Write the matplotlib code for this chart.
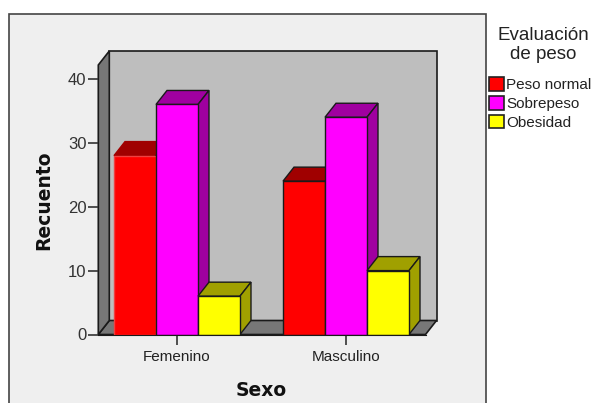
import numpy as np
import matplotlib
matplotlib.use('Agg')
import matplotlib.pyplot as plt
from matplotlib.patches import Rectangle, Patch

# Data
categories = ['Femenino', 'Masculino']
series_names = ['Peso normal', 'Sobrepeso', 'Obesidad']
peso_normal = [28, 24]
sobrepeso = [36, 34]
obesidad = [6, 10]
y_ticks = [0, 10, 20, 30, 40]

front_colors = ['#FF0000', '#FF00FF', '#FFFF00']
dark_colors = ['#A00000', '#A000A0', '#A0A000']

W, H = 597, 403
plt.rcParams['font.family'] = ['Liberation Sans', 'DejaVu Sans']
fig = plt.figure(figsize=(W / 100, H / 100), dpi=100, facecolor='white')

# grey chart panel, runs off the bottom of the picture
fig.add_artist(Rectangle((9 / W, -0.05), (485.5 - 9) / W, 1.05 - 14 / H, transform=fig.transFigure,
                         facecolor='#EFEFEF', edgecolor='#444444', linewidth=1.2, zorder=-1))

# front plane of the 3d box, in pixels
left, right, top, bottom = 98.3, 425.5, 65.0, 334.5
ax = fig.add_axes([left / W, 1 - bottom / H, (right - left) / W, (bottom - top) / H])
ax.patch.set_visible(False)

px_x = 169.0   # pixels from one category to the next
px_y = 6.39    # pixels for one count
ax.set_xlim(-(177 - left) / px_x, (right - 177) / px_x)
ax.set_ylim(0, (bottom - top) / px_y)

dx = 11 / px_x
dy = 14 / px_y
x0, x1 = ax.get_xlim()
y0, y1 = ax.get_ylim()
edge = '#1A1A1A'

# walls and floor
ax.fill([x0 + dx, x1 + dx, x1 + dx, x0 + dx], [y0 + dy, y0 + dy, y1 + dy, y1 + dy],
        facecolor='#BEBEBE', edgecolor=edge, linewidth=1.2, clip_on=False, zorder=1)
ax.fill([x0, x1, x1 + dx, x0 + dx], [y0, y0, y0 + dy, y0 + dy],
        facecolor='#777777', edgecolor=edge, linewidth=1.2, clip_on=False, zorder=1)
ax.fill([x0, x0 + dx, x0 + dx, x0], [y0, y0 + dy, y1 + dy, y1],
        facecolor='#777777', edgecolor=edge, linewidth=1.2, clip_on=False, zorder=1)

# bars, drawn left to right so each one covers the side of the previous
series = [peso_normal, sobrepeso, obesidad]
bar_w = 0.2485
z = 2
for c in range(len(categories)):
    for s in range(len(series)):
        v = series[s][c]
        xl = c + (s - 1.5) * bar_w
        xr = xl + bar_w
        # first red bar has no black outline in the original
        soft = (c == 0 and s == 0)
        ax.fill([xl, xr, xr + dx, xl + dx], [v, v, v + dy, v + dy], facecolor=dark_colors[s],
                edgecolor=dark_colors[s] if soft else edge, linewidth=1.0, clip_on=False, zorder=z)
        ax.fill([xr, xr + dx, xr + dx, xr], [0, dy, v + dy, v], facecolor=dark_colors[s],
                edgecolor=edge, linewidth=1.0, clip_on=False, zorder=z)
        ax.bar(xl, v, width=bar_w, align='edge', color=front_colors[s],
               edgecolor='#F04040' if soft else edge, linewidth=1.0, zorder=z + 1)
        z += 2

for sp in ax.spines.values():
    sp.set_visible(False)
ax.spines['bottom'].set_visible(True)
ax.spines['bottom'].set_color(edge)
ax.spines['bottom'].set_zorder(z)

ax.set_xticks(range(len(categories)))
ax.set_xticklabels(categories, fontsize=11)
ax.set_yticks(y_ticks)
ax.tick_params(axis='x', length=7.5, width=1.2, color='#333333', labelcolor='#222222', pad=3.5)
ax.tick_params(axis='y', length=7.5, width=1.2, color='#333333', labelcolor='#333333', labelsize=12, pad=1)

fig.text(261 / W, 1 - 391 / H, 'Sexo', family='DejaVu Sans', fontweight='bold', fontsize=13.5,
         ha='center', va='center', color='#111111')
fig.text(44 / W, 1 - 200 / H, 'Recuento', family='DejaVu Sans', fontweight='bold', fontsize=13.5,
         ha='center', va='center', rotation=90, color='#111111')

# legend
handles = [Patch(facecolor=front_colors[i], edgecolor='#222222', linewidth=1.2) for i in range(3)]
leg = fig.legend(handles, series_names, loc='upper left', bbox_to_anchor=(489 / W, 1 - 77 / H),
                 bbox_transform=fig.transFigure, frameon=False, fontsize=11, borderpad=0, borderaxespad=0,
                 handlelength=1.0, handleheight=1.0, handletextpad=0.12, labelspacing=0.25,
                 labelcolor='#222222')
fig.text(543 / W, 1 - 45 / H, 'Evaluación\nde peso', fontsize=13.5, ha='center', va='center',
         color='#222222', linespacing=1.2)

fig.savefig('out.png', dpi=100)
